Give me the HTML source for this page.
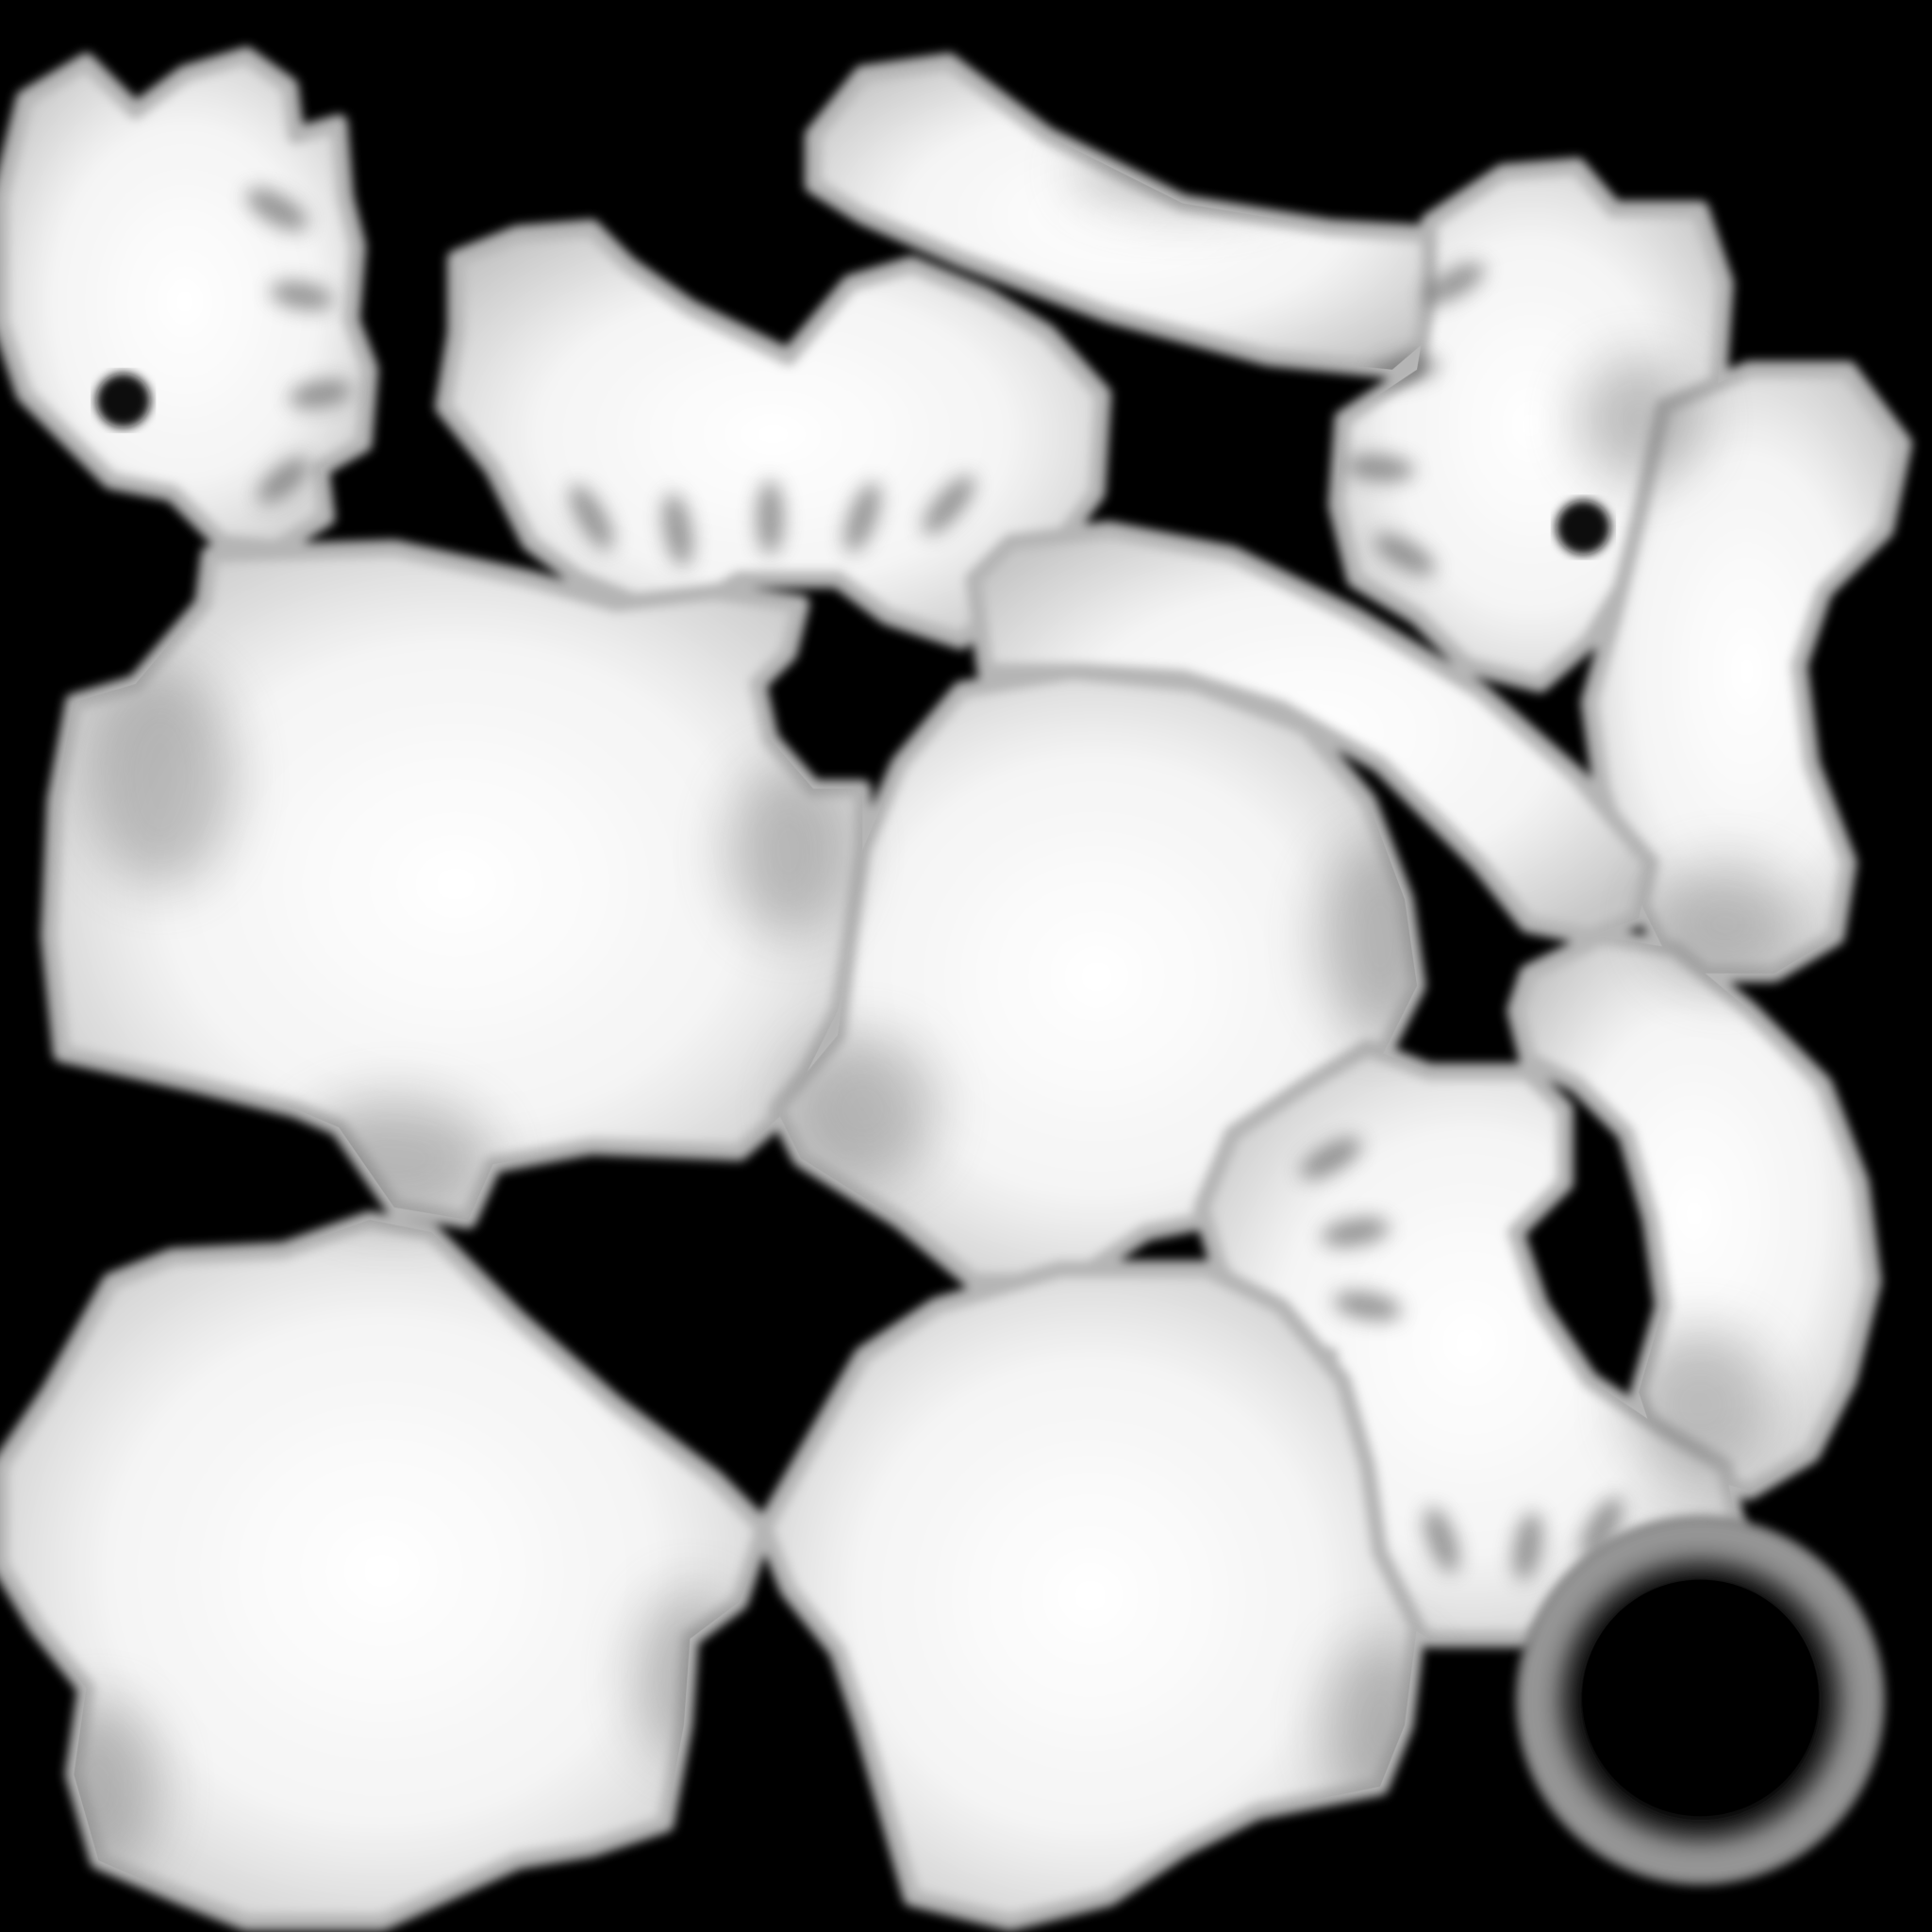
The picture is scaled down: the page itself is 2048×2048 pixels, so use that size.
<!DOCTYPE html>
<html><head><meta charset="utf-8"><style>
html,body{margin:0;padding:0;background:#000;}
svg{display:block;}
</style></head><body>
<svg width="2048" height="2048" viewBox="0 0 1568 1568" xmlns="http://www.w3.org/2000/svg">
<defs>
<radialGradient id="g" cx="50%" cy="50%" r="60%">
<stop offset="0" stop-color="#ffffff"/><stop offset="0.6" stop-color="#f4f4f4"/><stop offset="1" stop-color="#c8c8c8"/>
</radialGradient>
<radialGradient id="ring" cx="50%" cy="50%" r="50%">
<stop offset="0.62" stop-color="#000"/><stop offset="0.7" stop-color="#2a2a2a"/><stop offset="0.82" stop-color="#8a8a8a"/><stop offset="0.93" stop-color="#9a9a9a"/><stop offset="1" stop-color="#777"/>
</radialGradient>
<filter id="b"><feGaussianBlur stdDeviation="4"/></filter>
<filter id="bb" x="-80%" y="-80%" width="260%" height="260%"><feGaussianBlur stdDeviation="22"/></filter>
<filter id="bs" x="-80%" y="-80%" width="260%" height="260%"><feGaussianBlur stdDeviation="8"/></filter>
<g id="shapes">
<path d="M20 80 L70 50 L110 90 L150 60 L200 45 L235 70 L240 110 L275 100 L280 160 L290 200 L285 260 L300 300 L295 360 L260 380 L265 420 L225 445 L180 440 L140 400 L90 390 L60 360 L20 320 L0 260 L0 160 Z"/>
<path d="M370 210 L420 190 L480 185 L510 215 L560 250 L640 290 L690 230 L740 215 L800 240 L850 270 L895 320 L890 400 L860 440 L830 480 L780 520 L720 500 L680 470 L600 470 L560 495 L520 490 L470 470 L430 440 L400 380 L360 330 L370 270 Z"/>
<path d="M660 110 L700 60 L770 50 L850 110 L960 165 L1080 185 L1160 190 L1165 270 L1130 300 L1030 290 L900 255 L780 210 L700 175 L660 150 Z"/>
<path d="M1160 180 L1220 140 L1280 135 L1310 170 L1380 170 L1400 230 L1395 300 L1390 380 L1350 440 L1320 470 L1290 520 L1250 555 L1190 540 L1150 500 L1100 470 L1085 410 L1090 340 L1150 300 L1160 240 Z"/>
<path d="M1350 330 L1420 300 L1500 300 L1545 360 L1530 430 L1480 480 L1460 540 L1470 620 L1500 700 L1490 760 L1440 790 L1360 790 L1330 730 L1300 640 L1290 570 L1310 500 L1330 420 Z"/>
<path d="M60 570 L110 555 L165 490 L170 450 L320 445 L430 470 L500 490 L580 480 L650 490 L640 530 L615 555 L625 600 L660 640 L700 640 L700 700 L690 760 L680 820 L640 900 L600 935 L480 930 L400 945 L380 990 L320 980 L275 915 L240 900 L160 880 L50 855 L40 760 L45 650 Z"/>
<path d="M790 470 L820 440 L900 430 L1000 450 L1100 500 L1200 560 L1280 630 L1340 700 L1330 745 L1290 760 L1240 750 L1200 700 L1120 620 L1040 575 L960 550 L880 545 L800 545 Z"/>
<path d="M780 560 L870 545 L970 555 L1060 590 L1110 650 L1140 730 L1150 800 L1110 880 L1060 950 L980 990 L930 1000 L870 1040 L790 1040 L730 990 L650 940 L630 900 L680 840 L690 760 L700 690 L730 620 Z"/>
<path d="M1240 790 L1300 760 L1360 770 L1420 820 L1480 880 L1510 960 L1520 1040 L1500 1120 L1470 1180 L1420 1210 L1350 1190 L1330 1130 L1350 1060 L1340 990 L1320 920 L1280 880 L1240 860 L1230 820 Z"/>
<path d="M1000 920 L1060 880 L1110 850 L1160 870 L1240 870 L1270 900 L1270 960 L1230 1000 L1250 1060 L1290 1120 L1350 1160 L1400 1190 L1410 1240 L1370 1270 L1300 1300 L1240 1330 L1160 1330 L1110 1300 L1080 1250 L1070 1180 L1080 1100 L1040 1090 L990 1030 L975 980 Z"/>
<path d="M90 1040 L140 1020 L230 1015 L300 990 L350 1000 L420 1070 L500 1140 L580 1200 L620 1240 L600 1300 L560 1330 L555 1400 L540 1480 L480 1500 L420 1510 L310 1560 L200 1560 L150 1540 L80 1510 L60 1440 L70 1370 L30 1320 L0 1270 L0 1190 L40 1130 Z"/>
<path d="M700 1100 L760 1060 L860 1030 L980 1030 L1040 1060 L1090 1120 L1110 1190 L1120 1260 L1150 1320 L1140 1400 L1120 1450 L1020 1470 L960 1500 L900 1540 L820 1560 L740 1540 L720 1470 L700 1400 L680 1340 L640 1290 L620 1240 L660 1170 Z"/>
</g>
<mask id="m" maskUnits="userSpaceOnUse" x="0" y="0" width="1568" height="1568"><rect width="1568" height="1568" fill="#000"/><use href="#shapes" fill="#fff"/></mask>
</defs>
<rect width="1568" height="1568" fill="#000"/>
<g fill="url(#g)" stroke="#b5b5b5" stroke-width="14" stroke-linejoin="round" filter="url(#b)">
<use href="#shapes"/>
</g>
<g mask="url(#m)">
<g fill="#777" filter="url(#bb)" opacity="0.45">
<ellipse cx="130" cy="630" rx="60" ry="90"/>
<ellipse cx="640" cy="690" rx="50" ry="70"/>
<ellipse cx="320" cy="940" rx="80" ry="50"/>
<ellipse cx="700" cy="900" rx="60" ry="60"/>
<ellipse cx="1120" cy="760" rx="50" ry="80"/>
<ellipse cx="80" cy="1450" rx="50" ry="70"/>
<ellipse cx="560" cy="1360" rx="45" ry="70"/>
<ellipse cx="1120" cy="1400" rx="45" ry="70"/>
<ellipse cx="1380" cy="1140" rx="60" ry="60"/>
<ellipse cx="1330" cy="340" rx="50" ry="50"/>
<ellipse cx="1400" cy="750" rx="60" ry="50"/>
<ellipse cx="960" cy="140" rx="90" ry="30"/>
</g>
<g fill="#555" filter="url(#bs)" opacity="0.6">
<ellipse cx="225" cy="170" rx="12" ry="28" transform="rotate(-60 225 170)"/>
<ellipse cx="245" cy="240" rx="11" ry="26" transform="rotate(-80 245 240)"/>
<ellipse cx="260" cy="320" rx="11" ry="26" transform="rotate(-100 260 320)"/>
<ellipse cx="230" cy="390" rx="11" ry="26" transform="rotate(-130 230 390)"/>
<ellipse cx="480" cy="420" rx="11" ry="30" transform="rotate(-30 480 420)"/>
<ellipse cx="550" cy="430" rx="11" ry="30" transform="rotate(-10 550 430)"/>
<ellipse cx="625" cy="420" rx="11" ry="30"/>
<ellipse cx="700" cy="420" rx="11" ry="30" transform="rotate(20 700 420)"/>
<ellipse cx="770" cy="410" rx="11" ry="30" transform="rotate(40 770 410)"/>
<ellipse cx="1180" cy="230" rx="11" ry="28" transform="rotate(60 1180 230)"/>
<ellipse cx="1140" cy="300" rx="11" ry="28" transform="rotate(80 1140 300)"/>
<ellipse cx="1120" cy="380" rx="11" ry="28" transform="rotate(95 1120 380)"/>
<ellipse cx="1140" cy="450" rx="11" ry="28" transform="rotate(120 1140 450)"/>
<ellipse cx="1080" cy="940" rx="11" ry="28" transform="rotate(60 1080 940)"/>
<ellipse cx="1100" cy="1000" rx="11" ry="28" transform="rotate(80 1100 1000)"/>
<ellipse cx="1110" cy="1060" rx="11" ry="28" transform="rotate(100 1110 1060)"/>
<ellipse cx="1170" cy="1250" rx="11" ry="28" transform="rotate(-20 1170 1250)"/>
<ellipse cx="1240" cy="1255" rx="11" ry="28" transform="rotate(10 1240 1255)"/>
<ellipse cx="1300" cy="1240" rx="11" ry="28" transform="rotate(30 1300 1240)"/>
</g>
</g>
<circle cx="1380" cy="1380" r="150" fill="url(#ring)" filter="url(#b)"/>
<circle cx="1380" cy="1378" r="96" fill="#000"/>
<circle cx="100" cy="325" r="22" fill="#111" filter="url(#b)"/>
<circle cx="1285" cy="428" r="22" fill="#111" filter="url(#b)"/>
</svg>
</body></html>
